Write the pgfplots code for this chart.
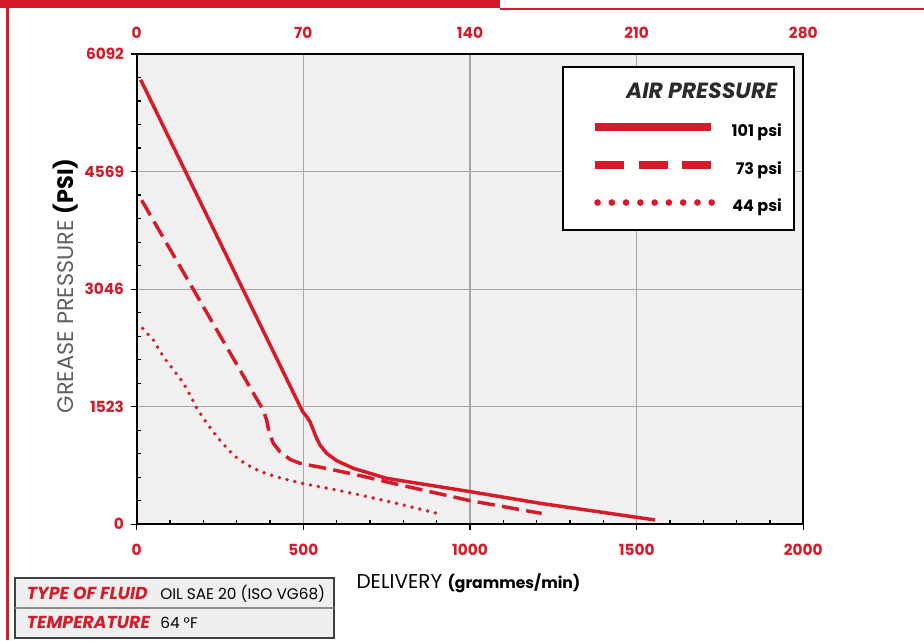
\documentclass[border=0pt]{standalone}
\usepackage{fontspec}
\setmainfont{Poppins}
\usepackage{pgfplots}
\pgfplotsset{compat=1.18}
\definecolor{cRed}{HTML}{D71A2A}
\definecolor{bgGray}{HTML}{F0F0F0}
\definecolor{gridGray}{HTML}{A8A8A8}
\definecolor{labGray}{HTML}{5F5F5F}
\definecolor{titleGray}{HTML}{2B2B2B}
\definecolor{boxGray}{HTML}{EFEFEF}

\begin{document}
\begin{tikzpicture}
\useasboundingbox (0,0) rectangle (693pt,480pt);
% red page frame
\fill[cRed] (0pt,480pt) rectangle (375pt,474pt);
\draw[cRed, line width=1.5pt] (375pt,473.6pt) -- (693pt,473.6pt);
\draw[cRed, line width=2.2pt] (5.6pt,474pt) -- (5.6pt,0pt);

% top scale (0..280)
\begin{axis}[
  at={(102.5pt,86.8pt)}, anchor=south west,
  scale only axis, width=500pt, height=352.7pt,
  xmin=0, xmax=280, ymin=0, ymax=1,
  axis x line*=top, axis y line=none,
  axis line style={draw=none},
  xtick={0,70,140,210,280},
  xticklabels={0,70,140,210,280},
  xtick style={draw=none},
  xticklabel style={font=\fontsize{11.5}{12}\selectfont\bfseries, text=cRed},
  xticklabel shift=8pt,
]
\end{axis}

\begin{axis}[
  at={(102.5pt,86.8pt)}, anchor=south west,
  scale only axis, width=500pt, height=352.7pt,
  xmin=0, xmax=2000, ymin=0, ymax=6092,
  xtick={0,500,1000,1500,2000},
  xticklabels={0,500,1000,1500,2000},
  ytick={0,1523,3046,4569,6092},
  yticklabels={0,1523,3046,4569,6092},
  minor x tick num=4, minor y tick num=4,
  xtick pos=left, ytick pos=left,
  tick align=outside, major tick length=4pt, minor tick length=-3.5pt,
  tick style={black, line width=0.9pt},
  grid=major, major grid style={gridGray, line width=0.8pt},
  axis line style={black, line width=1.3pt},
  axis background/.style={fill=bgGray},
  ticklabel style={font=\fontsize{11.5}{12}\selectfont\bfseries, text=cRed},
  xticklabel shift=7pt, yticklabel shift=2pt,
  xlabel={DELIVERY {\fontsize{11.7}{12}\selectfont\bfseries(grammes/min)}},
  xlabel style={at={(rel axis cs:0.4977,-0.1376)}, anchor=base,
    font=\fontsize{15}{17}\selectfont, text=black},
  ylabel={{\color{labGray}GREASE PRESSURE} {\bfseries (PSI)}},
  ylabel style={at={(rel axis cs:-0.106,0.507)}, anchor=center, rotate=0,
    font=\fontsize{16.8}{18}\selectfont, text=black},
  legend style={
    at={(0.9874,0.9745)}, anchor=north east,
    draw=black, line width=1.5pt, fill=white,
    inner xsep=9pt, inner ysep=12pt, row sep=17pt,
    nodes={inner sep=0pt, text=black, font=\fontsize{12}{14}\selectfont\bfseries},
    /tikz/every odd column/.append style={column sep=12pt},
  },
  legend cell align=right,
]
\addlegendimage{empty legend}
\addlegendentry{\llap{\fontsize{16.5}{18}\selectfont\bfseries\itshape\color{titleGray}AIR PRESSURE\hspace*{3pt}}}

\addplot[cRed, line width=2.6pt, line join=round,
  legend image code/.code={
    \path (-13.5pt,0pt);
    \draw[cRed, line width=6pt] (0pt,3pt) -- (87pt,3pt);}]
coordinates {
  (12,5759) (498,1458) (510,1395) (520,1329) (530,1221) (540,1113)
  (550,1027) (570,919) (600,824) (650,725) (750,595) (1000,423)
  (1210,272) (1555,56)
};
\addlegendentry{101 psi}

\addplot[cRed, line width=2.6pt, line join=round, dash pattern=on 13pt off 5.5pt,
  legend image code/.code={
    \path (-13.5pt,0pt);
    \draw[cRed, line width=5.5pt, dash pattern=on 21.75pt off 11pt] (0pt,3pt) -- (87pt,3pt);}]
coordinates {
  (15,4198) (365,1588) (380,1480) (390,1350) (398,1178) (410,1048)
  (430,940) (460,841) (490,789) (550,740) (650,650) (800,500)
  (1000,306) (1215,140)
};
\addlegendentry{73 psi}

\addplot[cRed, line width=2.9pt, line cap=round, dash pattern=on 0pt off 6pt,
  legend image code/.code={
    \path (-13.5pt,0pt);
    \draw[cRed, line width=5pt, line cap=round, dash pattern=on 0pt off 10.7pt] (2pt,3pt) -- (88pt,3pt);}]
coordinates {
  (18,2537) (50,2386) (80,2170) (110,2003) (140,1830) (165,1636)
  (180,1506) (210,1312) (240,1139) (270,988) (295,880) (330,772)
  (370,686) (420,613) (500,526) (600,444) (700,350) (800,250) (908,134)
};
\addlegendentry{44 psi}
\end{axis}

% fluid info box
\draw[fill=boxGray, draw=black!75, line width=1.1pt] (11.25pt,1.5pt) rectangle (250.5pt,46.5pt);
\draw[black!45, line width=0.9pt] (11.25pt,24pt) -- (250.5pt,24pt);
\node[anchor=base west, inner sep=0pt, text=cRed, font=\fontsize{13}{14}\selectfont\bfseries\itshape] at (20pt,30.75pt) {TYPE OF FLUID};
\node[anchor=base west, inner sep=0pt, font=\fontsize{11.5}{13}\selectfont] at (120pt,30.75pt) {OIL SAE 20 (ISO VG68)};
\node[anchor=base west, inner sep=0pt, text=cRed, font=\fontsize{13}{14}\selectfont\bfseries\itshape] at (20pt,9pt) {TEMPERATURE};
\node[anchor=base west, inner sep=0pt, font=\fontsize{11.5}{13}\selectfont] at (120pt,9pt) {64 °F};
\end{tikzpicture}
\end{document}
